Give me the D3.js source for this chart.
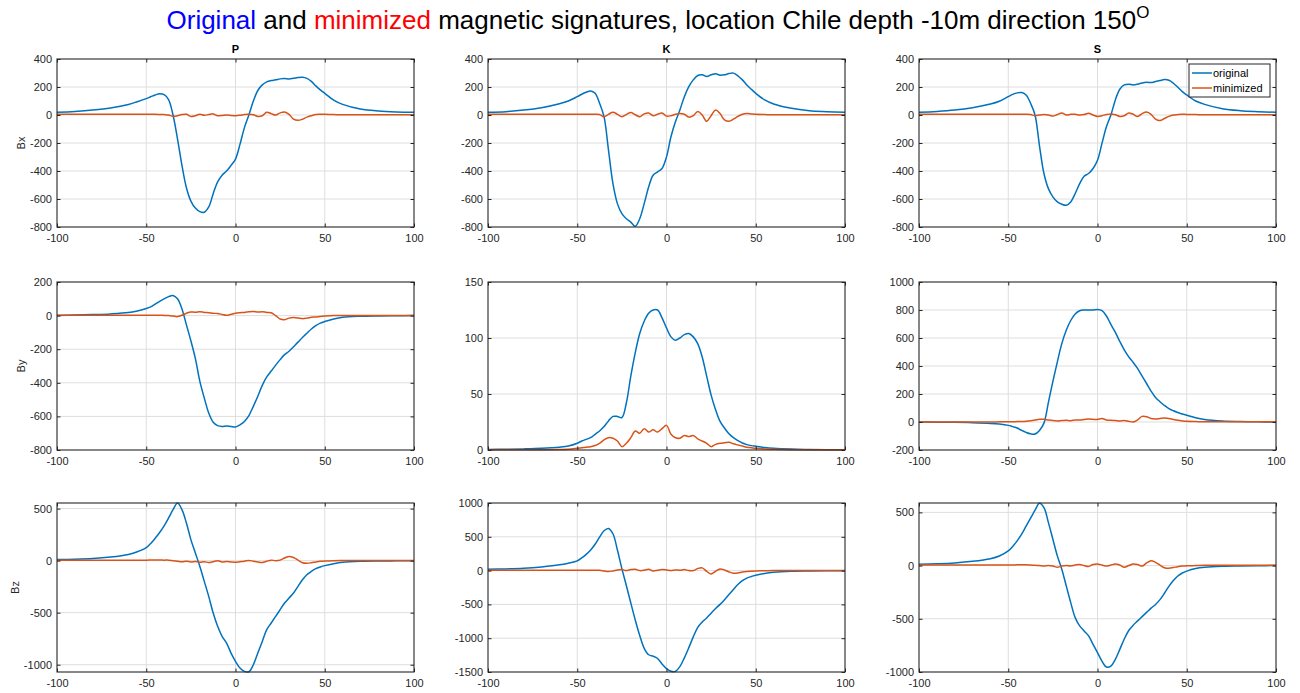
<!DOCTYPE html>
<html><head><meta charset="utf-8">
<script src="https://cdn.jsdelivr.net/npm/d3@7"></script>
<style>
body{margin:0;background:#fff}
svg{display:block}
text{font-family:"Liberation Sans",Arial,Helvetica,sans-serif}
</style>
</head><body>
<svg id="c" width="1300" height="693"></svg>
<script>
// ---------------- DATA ----------------
const xPos = [-100,-90,-80,-70,-60,-55,-50,-47.5,-45,-42.5,-40,-37.5,-35,-32.5,-30,-27.5,-25,-22.5,-20,-17.5,-15,-12.5,-10,-7.5,-5,-2.5,0,2.5,5,7.5,10,12.5,15,17.5,20,22.5,25,27.5,30,32.5,35,37.5,40,42.5,45,47.5,50,55,60,70,80,90,100];

const colNames = ["P","K","S"];
const rowNames = ["Bx","By","Bz"];
const seriesNames = ["original","minimized"];
const xTicks = [-100,-50,0,50,100];

// P
const P_Bx_orig = [19,25,35,50,75,95,117,130,143,152,145,110,0,-170,-360,-520,-615,-665,-690,-695,-657,-562,-478,-430,-400,-360,-315,-210,-90,0,100,175,215,237,246,251,258,260,257,262,268,270,262,240,208,180,155,107,76,43,29,22,19];
const P_Bx_min  = [5,5,5,5,5,5,5,5,5,4,3,0,-10,-5,3,5,-10,-5,5,-2,3,8,-5,-3,0,-3,-5,-2,3,5,2,-10,-5,20,10,0,15,22,5,-30,-38,-30,-15,-5,3,5,5,3,2,1,1,1,1];
const P_By_orig = [1,3,6,10,18,28,42,52,68,85,100,113,120,100,40,-55,-150,-255,-390,-490,-580,-635,-655,-660,-657,-660,-663,-650,-630,-595,-540,-480,-415,-365,-330,-295,-262,-232,-212,-185,-158,-130,-105,-80,-60,-45,-35,-20,-10,-4,-2,-1,0];
const P_By_min  = [2,2,2,2,2,2,2,2,2,2,1,0,-3,-6,2,14,22,20,23,19,17,14,12,7,2,8,14,17,19,23,25,21,23,19,17,0,-20,-24,-15,-12,-14,-18,-15,-10,-8,-5,-3,0,1,1,1,1,1];
const P_Bz_orig = [10,13,20,35,60,85,125,165,215,270,335,410,490,554,490,362,202,74,-54,-199,-343,-503,-631,-728,-792,-888,-968,-1032,-1064,-1068,-1000,-888,-776,-663,-599,-535,-471,-407,-359,-311,-247,-183,-135,-103,-77,-61,-48,-29,-16,-6,-3,-2,-1];
const P_Bz_min  = [5,5,5,5,5,5,5,6,7,7,5,5,0,-5,-10,-5,-12,-8,-15,-10,-18,-10,0,-12,-8,-12,-15,-10,-5,2,-5,-12,-18,-5,5,0,5,25,40,30,5,-20,-25,-20,-12,-6,-3,0,1,2,2,2,2];
// K
const K_Bx_orig = [19,24,35,52,80,100,131,148,162,172,155,84,-12,-251,-490,-633,-705,-741,-765,-795,-741,-633,-514,-430,-406,-382,-299,-155,-48,36,131,203,251,282,287,275,287,294,284,287,296,299,280,251,215,184,155,108,79,48,31,24,19];
const K_Bx_min  = [5,5,5,5,5,5,5,5,5,5,5,3,-12,5,20,5,-12,3,18,2,-12,8,14,-5,5,15,-8,-5,5,10,5,-15,-5,25,0,-45,-5,35,10,-35,-45,-30,-10,5,10,8,5,3,2,1,1,1,1];
const K_By_orig = [0.5,0.7,1,1.5,2.5,3.5,6,8,9.5,11,14,17,21,26,30,30,29,42,66,87,104,115,122,125,125,118,109,101,98,100,103,104,101,95,83,66,49,36,25.5,19.6,14.5,11,8.3,6.2,4.8,3.9,3.3,2.2,1.5,0.8,0.5,0.3,0.2];
const K_By_min  = [0.3,0.3,0.3,0.3,0.4,0.6,1.5,2,2.5,3,4,6,9,11,10.5,8,3,6,11,17,15,19,16,18,16,19,22,14,11,10.5,13,12,13,10,8,6,3,5,6,6.5,7,5.5,4.5,3.5,2.5,2,1.5,1,0.6,0.3,0.2,0.2,0.2];
const K_Bz_orig = [20,25,35,55,85,110,144,188,240,305,390,495,590,624,545,305,30,-220,-480,-730,-960,-1150,-1245,-1265,-1300,-1380,-1450,-1490,-1490,-1420,-1290,-1140,-980,-840,-760,-700,-630,-560,-500,-430,-355,-280,-205,-150,-112,-88,-70,-42,-25,-10,-5,-2,-1];
const K_Bz_min  = [5,5,5,5,5,5,5,5,5,5,5,5,-5,-15,-5,10,15,0,15,20,0,5,20,-5,5,15,10,0,10,5,15,0,0,30,40,-10,-50,-10,25,10,-20,-40,-35,-20,-12,-8,-5,-2,0,1,1,1,1];
// S
const S_Bx_orig = [19,25,35,52,78,98,131,147,158,160,143,84,0,-220,-418,-526,-585,-621,-638,-645,-621,-561,-490,-437,-418,-382,-323,-203,-84,0,108,184,215,220,215,220,229,234,232,239,246,253,248,227,198,167,143,100,76,45,31,24,19];
const S_Bx_min  = [5,5,5,5,5,5,5,5,5,5,5,3,-5,0,3,0,-8,3,15,0,5,5,0,3,12,0,-10,-5,3,8,2,-10,-5,15,5,-10,10,22,5,-30,-40,-25,-10,0,3,5,4,3,2,1,1,1,1];
const S_By_orig = [0,-1,-2,-5,-10,-15,-24,-33,-43,-60,-74,-84,-86,-60,-8,140,290,430,560,655,725,772,795,800,800,800,803,795,757,697,640,575,515,465,425,381,328,275,221,175,145,118,95,80,68,57,48,30,18,7,3,1,0];
const S_By_min  = [0,0,0,0,0,1,2,2,3,4,6,9,14,20,19,14,10,8,10,12,9,15,14,18,22,19,18,25,15,12,10,8,10,5,0,15,40,38,25,22,25,28,25,18,12,8,5,3,2,1,1,1,1];
const S_Bz_orig = [12,17,25,40,65,90,138,180,232,295,370,445,520,586,545,404,248,91,-34,-191,-348,-489,-567,-614,-661,-740,-818,-897,-953,-944,-881,-787,-690,-610,-560,-520,-480,-440,-400,-365,-320,-260,-195,-140,-98,-70,-52,-28,-16,-6,-3,-1,0];
const S_Bz_min  = [5,5,5,5,5,5,5,6,7,8,8,5,2,0,-5,0,-5,-15,-5,0,-3,5,10,0,-8,10,15,5,-5,5,15,5,-15,0,15,10,-5,25,45,30,5,-20,-25,-18,-10,-5,-2,0,2,2,2,2,2];

// y-axis limits and ticks per row (Bx, By, Bz)
const yLimP = [[-800,400],[-800,200],[-1070,554]];
const yLimK = [[-800,400],[0,150],[-1500,1000]];
const yLimS = [[-800,400],[-200,1000],[-1000,588]];
const yTicksP = [[-800,-600,-400,-200,0,200,400],[-800,-600,-400,-200,0,200],[-1000,-500,0,500]];
const yTicksK = [[-800,-600,-400,-200,0,200,400],[0,50,100,150],[-1500,-1000,-500,0,500,1000]];
const yTicksS = [[-800,-600,-400,-200,0,200,400],[-200,0,200,400,600,800,1000],[-1000,-500,0,500]];

// ---------------- DRAW ----------------
const svg = d3.select("#c");
const colX = [57, 488, 919];
const rowY = [59, 282, 503];
const W = 357, H = 168;
const colors = ["#0072BD", "#D95319"];
const axisColor = "#262626";
const gridColor = "#dedede";

const seriesData = {
  P: [[P_Bx_orig, P_Bx_min], [P_By_orig, P_By_min], [P_Bz_orig, P_Bz_min]],
  K: [[K_Bx_orig, K_Bx_min], [K_By_orig, K_By_min], [K_Bz_orig, K_Bz_min]],
  S: [[S_Bx_orig, S_Bx_min], [S_By_orig, S_By_min], [S_Bz_orig, S_Bz_min]]
};
const yLims = {P: yLimP, K: yLimK, S: yLimS};
const yTicksAll = {P: yTicksP, K: yTicksK, S: yTicksS};

// Title
const title = svg.append("text")
  .attr("x", 658).attr("y", 29)
  .attr("text-anchor", "middle")
  .style("font-size", "26px")
  .attr("fill", "#000");
title.append("tspan").attr("fill", "#0000ff").text("Original");
title.append("tspan").text(" and ");
title.append("tspan").attr("fill", "#ff0000").text("minimized");
title.append("tspan").text(" magnetic signatures, location Chile depth -10m direction 150");
title.append("tspan").attr("dy", -11).style("font-size", "17px").text("O");

let clipId = 0;
colNames.forEach((cn, ci) => {
  svg.append("text")
    .attr("x", colX[ci] + W / 2).attr("y", 53)
    .attr("text-anchor", "middle")
    .style("font-size", "11px").style("font-weight", "bold")
    .attr("fill", "#000")
    .text(cn);

  rowNames.forEach((rn, ri) => {
    const g = svg.append("g").attr("transform", `translate(${colX[ci]},${rowY[ri]})`);
    const h = ri === 2 ? H + 1 : H;
    const x = d3.scaleLinear().domain([-100, 100]).range([0, W]);
    const y = d3.scaleLinear().domain(yLims[cn][ri]).range([h, 0]);
    const yt = yTicksAll[cn][ri];

    g.append("rect").attr("width", W).attr("height", h).attr("fill", "#fff");

    g.append("g").selectAll("line").data(xTicks.slice(1, -1)).enter().append("line")
      .attr("x1", d => x(d)).attr("x2", d => x(d)).attr("y1", 0).attr("y2", h)
      .attr("stroke", gridColor).attr("stroke-width", 1);
    g.append("g").selectAll("line").data(yt.filter(v => y(v) > 0.5 && y(v) < h - 0.5)).enter().append("line")
      .attr("y1", d => y(d)).attr("y2", d => y(d)).attr("x1", 0).attr("x2", W)
      .attr("stroke", gridColor).attr("stroke-width", 1);

    const cid = "clip" + (clipId++);
    g.append("clipPath").attr("id", cid).append("rect")
      .attr("x", 0).attr("y", -1).attr("width", W).attr("height", h + 2);

    const line = d3.line()
      .x((d, i) => x(xPos[i]))
      .y(d => y(d))
      .curve(d3.curveCatmullRom.alpha(0.5));

    const lines = g.append("g").attr("clip-path", `url(#${cid})`);
    seriesData[cn][ri].forEach((arr, si) => {
      lines.append("path").datum(arr)
        .attr("d", line)
        .attr("fill", "none")
        .attr("stroke", colors[si])
        .attr("stroke-width", 1.5)
        .attr("stroke-linejoin", "round");
    });

    const axB = g.append("g").attr("transform", `translate(0,${h})`)
      .call(d3.axisBottom(x).tickValues(xTicks).tickSizeInner(-3.5).tickSizeOuter(0).tickPadding(7.5));
    const axL = g.append("g")
      .call(d3.axisLeft(y).tickValues(yt).tickSizeInner(-3.5).tickSizeOuter(0).tickPadding(5).tickFormat(d3.format("d")));
    g.append("g")
      .call(d3.axisTop(x).tickValues(xTicks).tickSizeInner(-3.5).tickSizeOuter(0).tickFormat(""));
    g.append("g").attr("transform", `translate(${W},0)`)
      .call(d3.axisRight(y).tickValues(yt).tickSizeInner(-3.5).tickSizeOuter(0).tickFormat(""));

    g.selectAll(".domain").attr("stroke", "none");
    g.selectAll(".tick line").attr("stroke", axisColor).attr("stroke-width", 1);
    g.selectAll(".tick text").attr("fill", axisColor)
      .style("font-size", "11px")
      .style("font-family", '"Liberation Sans",Arial,Helvetica,sans-serif');
    g.selectAll(".tick text").text(function() { return d3.select(this).text().replace("\u2212", "-"); });

    g.append("rect").attr("width", W).attr("height", h)
      .attr("fill", "none").attr("stroke", axisColor).attr("stroke-width", 1.1);

    if (ci === 0) {
      const bb = axL.node().getBBox();
      g.append("text")
        .attr("transform", `translate(${bb.x - 5},${h / 2}) rotate(-90)`)
        .attr("text-anchor", "middle")
        .style("font-size", "11px")
        .attr("fill", axisColor)
        .text(rn);
    }

    if (cn === "S" && ri === 0) {
      const lg = g.append("g").attr("transform", "translate(270,5)");
      lg.append("rect").attr("width", 81).attr("height", 33)
        .attr("fill", "#fff").attr("stroke", axisColor).attr("stroke-width", 1);
      seriesNames.forEach((nm, si) => {
        const yy = 9 + si * 15;
        lg.append("line").attr("x1", 3).attr("x2", 23).attr("y1", yy).attr("y2", yy)
          .attr("stroke", colors[si]).attr("stroke-width", 1.5);
        lg.append("text").attr("x", 24).attr("y", yy + 4)
          .style("font-size", "11px").attr("fill", "#000").text(nm);
      });
    }
  });
});
</script>
</body></html>
